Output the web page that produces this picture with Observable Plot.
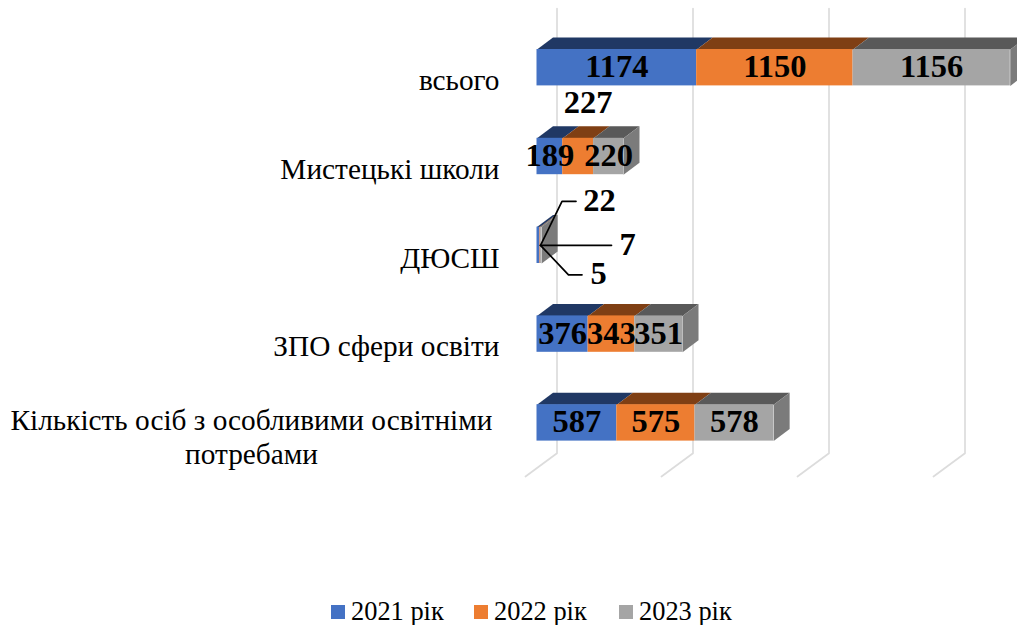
<!DOCTYPE html>
<html lang="uk">
<head>
<meta charset="utf-8">
<script src="https://cdn.jsdelivr.net/npm/d3@7"></script>
<script src="https://cdn.jsdelivr.net/npm/@observablehq/plot@0.6"></script>
<style>
  html, body { margin: 0; padding: 0; background: #fff; overflow: hidden; }
  svg { display: block; }
  #legend { position: relative; height: 35px; font: 26.4px "Liberation Serif", serif; color: #000; }
  #legend .sw { position: absolute; top: 15px; width: 14px; height: 14px; }
  #legend .tx { position: absolute; top: 5px; line-height: 32px; white-space: nowrap; }
</style>
</head>
<body>
<div id="chart"></div>
<div id="legend"></div>
<script>
// ---- data ----
const categories = ["всього", "Мистецькі школи", "ДЮСШ", "ЗПО сфери освіти", "Кількість осіб з особливими освітніми\nпотребами"];
const seriesNames = ["2021 рік", "2022 рік", "2023 рік"];
const values2021 = [1174, 189, 22, 376, 587];
const values2022 = [1150, 227, 5, 343, 575];
const values2023 = [1156, 220, 7, 351, 578];
const xTicks = [0, 1000, 2000, 3000];

// ---- style ----
const frontColors = ["#4472c4", "#ed7d31", "#a5a5a5"];
const topColors = ["#203864", "#7f3f14", "#595959"];
const sideColor = "#7b7b7b";
const gridColor = "#dcdcdc";
const serif = '"Liberation Serif", serif';

// ---- layout ----
const W = 1017, H = 590;
const pxPerUnit = 0.136, pxPerRow = 88.8;
const x0Px = 536.5, y0Px = 67.2;
const ux = (px) => px / pxPerUnit;   // pixel length -> value units
const uy = (px) => px / pxPerRow;    // pixel length -> row units
const half = uy(18.2);               // half of the bar's front height
const depthX = ux(16), depthY = uy(-12);

// ---- derived tables ----
const allSeries = [values2021, values2022, values2023];
const segments = categories.flatMap((c, row) => {
  let sum = 0;
  return allSeries.map((vals, s) => {
    const start = sum; sum += vals[row];
    return {row, s, series: seriesNames[s], value: vals[row], start, end: sum, mid: start + vals[row] / 2};
  });
});

const poly = (id, color, pts) => pts.map(([x, y]) => ({id, color, x, y}));
const topFaces = segments.flatMap((d, i) => poly(`t${i}`, topColors[d.s], [
  [d.start, d.row - half], [d.end, d.row - half],
  [d.end + depthX, d.row - half + depthY], [d.start + depthX, d.row - half + depthY]
]));
const sideFaces = segments.filter(d => d.s === 2).flatMap((d, i) => poly(`s${i}`, sideColor, [
  [d.end, d.row - half], [d.end + depthX, d.row - half + depthY],
  [d.end + depthX, d.row + half + depthY], [d.end, d.row + half]
]));

// gridlines: back wall plus the floor stroke toward the viewer
const lastRow = categories.length - 1;
const gridTop = uy(8 - y0Px), gridBack = uy(452.7 - y0Px), gridFront = uy(476 - y0Px);
const gridLines = xTicks.flatMap(t => [
  {t, x: t + ux(20), y: gridTop},
  {t, x: t + ux(20), y: gridBack},
  {t, x: t + ux(-11.5), y: gridFront}
]);

// labels that were moved away from their segment in the original (px offsets)
const moved = {
  "1-1": [10, -53],
  "2-0": [61, -44],
  "2-1": [58.2, 29.5],
  "2-2": [86.6, 0]
};
const labelRows = segments.map(d => {
  const [dx, dy] = moved[`${d.row}-${d.s}`] || [0, 0];
  return {...d, lx: d.mid + ux(dx), ly: d.row + uy(dy)};
});

// leader lines of the ДЮСШ row (px offsets from their common start)
const leaderStart = ux(3.5), leaderRow = 2;
const leaders = [
  [[0, 0], [21.5, -44], [35.5, -44]],
  [[0, 0], [71, 0]],
  [[0, 0], [28, 29.5], [41.5, 29.5]]
].flatMap((pts, k) => pts.map(([dx, dy]) => ({k, x: leaderStart + ux(dx), y: leaderRow + uy(dy)})));

const plot = Plot.plot({
  width: W, height: H,
  margin: 0,
  style: {background: "transparent", fontFamily: serif},
  x: {type: "linear", domain: [-x0Px / pxPerUnit, (W - x0Px) / pxPerUnit], range: [0, W], axis: null},
  y: {type: "linear", domain: [-y0Px / pxPerRow, (H - y0Px) / pxPerRow], range: [0, H], axis: null},
  color: {domain: seriesNames, range: frontColors},
  marks: [
    Plot.line(gridLines, {x: "x", y: "y", z: "t", stroke: gridColor, strokeWidth: 1.7, curve: "linear"}),
    Plot.line(topFaces, {x: "x", y: "y", z: "id", fill: {value: "color", scale: null}, stroke: "none"}),
    Plot.line(sideFaces, {x: "x", y: "y", z: "id", fill: {value: "color", scale: null}, stroke: "none"}),
    Plot.rect(segments, {x1: "start", x2: "end", y1: d => d.row - half, y2: d => d.row + half, fill: "series"}),
    Plot.line(leaders, {x: "x", y: "y", z: "k", stroke: "#000", strokeWidth: 1.7}),
    Plot.text(labelRows, {x: "lx", y: "ly", text: d => String(d.value), dy: -1, fontSize: 32.5, fontWeight: "bold", fill: "#000"}),
    // category labels: right-aligned single lines, the wrapped one is centred
    Plot.text(categories.slice(0, lastRow), {x: () => 0, y: (d, i) => i, text: d => d, textAnchor: "end", dx: -37.5, dy: 13, fontSize: 29.3, fill: "#000"}),
    Plot.text([categories[lastRow]], {x: () => 0, y: () => lastRow, text: d => d, textAnchor: "middle", dx: -285.5, dy: 13.5, fontSize: 29.3, lineHeight: 1.16, fill: "#000"})
  ]
});
document.getElementById("chart").append(plot);

// ---- legend ----
const legend = d3.select("#legend");
const swatchX = [331, 474, 619];
seriesNames.forEach((name, i) => {
  legend.append("div").attr("class", "sw").style("left", swatchX[i] + "px").style("background", plot.scale("color").apply(name));
  legend.append("div").attr("class", "tx").style("left", swatchX[i] + 20 + "px").text(name);
});
</script>
</body>
</html>
